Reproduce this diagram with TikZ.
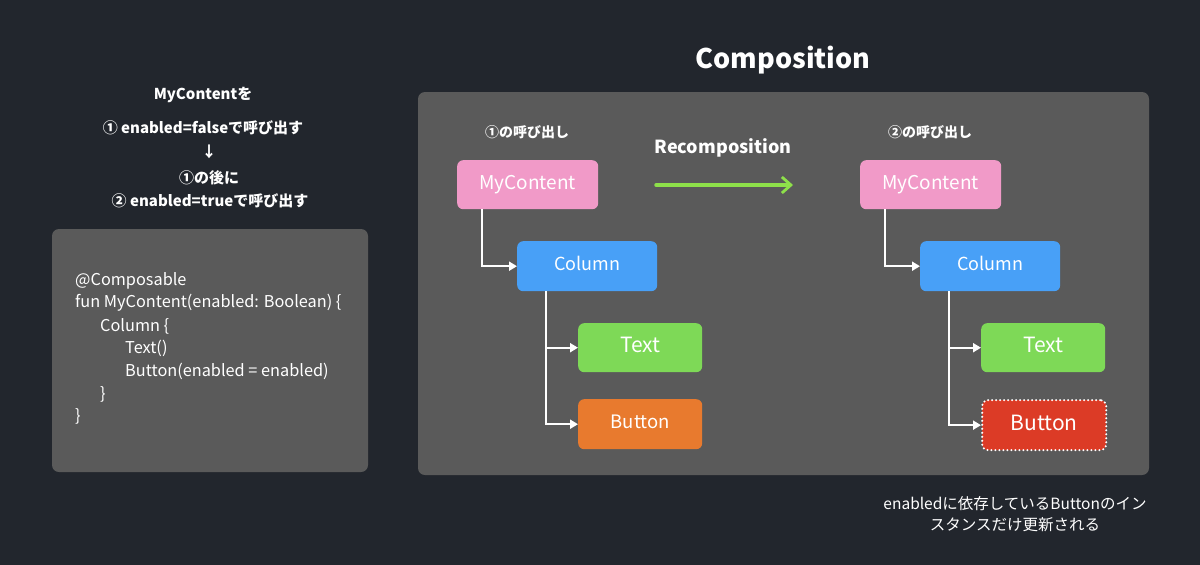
\documentclass[tikz,border=0pt]{standalone}
\usepackage{fontspec}
\setmainfont{Noto Sans CJK JP}
\usetikzlibrary{arrows.meta}
\definecolor{bgc}{HTML}{22262D}
\definecolor{panelc}{HTML}{5A5A5A}
\definecolor{pinkc}{HTML}{F19AC8}
\definecolor{bluec}{HTML}{48A0F7}
\definecolor{greenc}{HTML}{7ED957}
\definecolor{orangec}{HTML}{E87A2E}
\definecolor{redc}{HTML}{DC3B26}
\definecolor{arrowg}{HTML}{8EE04A}
\newcommand{\upt}[1]{\raisebox{5pt}{#1}}
\tikzset{
  panel/.style={fill=panelc, rounded corners=7pt, draw=none},
  boxn/.style={rounded corners=6pt, text=white, font=\fontsize{19}{22}\selectfont, inner sep=0pt, anchor=north west},
  heading/.style={text=white, font=\bfseries\fontsize{15}{18}\selectfont},
  codeline/.style={text=white, anchor=west, font=\fontsize{16.3}{19}\selectfont, inner sep=0pt},
  conn/.style={draw=white, line width=2pt, -{Triangle[length=8pt,width=9pt]}},
}
\begin{document}
\begin{tikzpicture}[x=1pt,y=-1pt]
\useasboundingbox[fill=bgc] (0,0) rectangle (1200,565);
% left instructions
\node[heading] (t1) at (203,95) {MyContentを};
\node[heading] (t2) at (203,128) {① enabled=falseで呼び出す};
\node[heading] (t3) at (209,152) {↓};
\node[heading] (t4) at (209,178) {①の後に};
\node[heading] (t5) at (210,201) {② enabled=trueで呼び出す};
% code box
\path[panel] (52,229) rectangle (368,472);
\node[codeline] (c1) at (75,281) {@Composable};
\node[codeline] (c2) at (75,303) {fun MyContent(enabled: Boolean) \{};
\node[codeline] (c3) at (100,326) {Column \{};
\node[codeline] (c4) at (125,348) {Text()};
\node[codeline] (c5) at (125,371) {Button(enabled = enabled)};
\node[codeline] (c6) at (100,394) {\}};
\node[codeline] (c7) at (75,416) {\}};
% composition
\node[text=white, font=\bfseries\fontsize{27}{30}\selectfont] (comp) at (783,60) {Composition};
\path[panel] (418,92) rectangle (1149,475);
\node[heading, font=\bfseries\fontsize{14}{16}\selectfont] (call1) at (527,132) {①の呼び出し};
\node[heading, font=\bfseries\fontsize{14}{16}\selectfont] (call2) at (930,132) {②の呼び出し};
\node[heading, font=\bfseries\fontsize{18}{20}\selectfont] (recomp) at (723,148) {Recomposition};
\coordinate (ga) at (656,185);
\coordinate (gb) at (793,185);
\draw[arrowg, line width=3.5pt, line cap=round, -{Straight Barb[length=9pt,width=16pt,line width=2.8pt]}] (ga) -- (gb);
% left tree
\node[boxn, fill=pinkc, minimum width=141pt, minimum height=49pt] (m1) at (457,160) {\upt{MyContent}};
\node[boxn, fill=bluec, minimum width=140pt, minimum height=50pt, font=\fontsize{18}{21}\selectfont] (col1) at (517,241) {\upt{Column}};
\node[boxn, fill=greenc, minimum width=124pt, minimum height=49pt, font=\fontsize{21}{24}\selectfont] (tx1) at (578,323) {\upt{Text}};
\node[boxn, fill=orangec, minimum width=124pt, minimum height=50pt, font=\fontsize{18.5}{22}\selectfont] (bt1) at (578,399) {\upt{Button}};
\draw[conn] (m1.south west) ++(25,0) |- (col1.west);
\draw[conn] (col1.south west) ++(29,0) |- (tx1.west);
\draw[conn] (col1.south west) ++(29,0) |- (bt1.west);
% right tree
\node[boxn, fill=pinkc, minimum width=141pt, minimum height=49pt] (m2) at (860,160) {\upt{MyContent}};
\node[boxn, fill=bluec, minimum width=140pt, minimum height=50pt, font=\fontsize{18}{21}\selectfont] (col2) at (920,241) {\upt{Column}};
\node[boxn, fill=greenc, minimum width=124pt, minimum height=49pt, font=\fontsize{21}{24}\selectfont] (tx2) at (981,323) {\upt{Text}};
\node[boxn, fill=redc, minimum width=124pt, minimum height=50pt, font=\fontsize{21}{24}\selectfont, draw=white, line width=2.3pt, dash pattern=on 0pt off 4pt, line cap=round] (bt2) at (981,399) {\upt{Button}};
\draw[conn] (m2.south west) ++(25,0) |- (col2.west);
\draw[conn] (col2.south west) ++(29,0) |- (tx2.west);
\draw[conn] (col2.south west) ++(29,0) |- (bt2.west);
% note
\node[text=white, font=\fontsize{15.5}{21}\selectfont, align=center] (note) at (1015,514) {enabledに依存しているButtonのイン\\スタンスだけ更新される};
\end{tikzpicture}
\end{document}
